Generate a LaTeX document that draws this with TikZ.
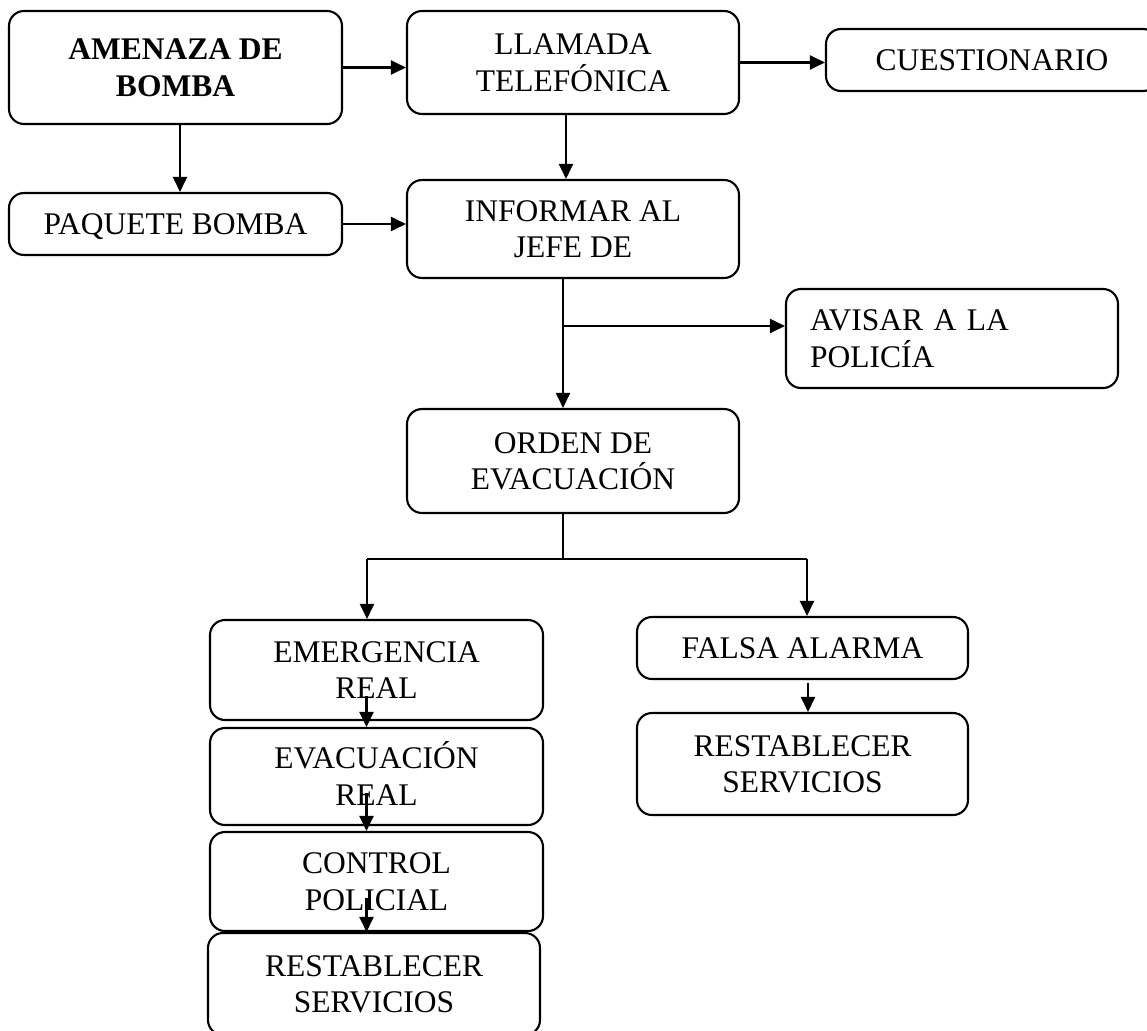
\documentclass[tikz,border=0pt]{standalone}
\usepackage{fontspec}
\setmainfont{Liberation Serif}
\usetikzlibrary{arrows.meta}

\begin{document}
\begin{tikzpicture}[x=1pt, y=-1pt,
        box/.style={draw, line width=2.1pt, rounded corners=15pt, minimum width=332pt,
            inner sep=0pt, align=center, text depth=0pt,
            font=\fontsize{31.5}{36.2}\selectfont},
        one/.style={box, text height=20.9pt},
        two/.style={box, text height=57.1pt},
        arr/.style={line width=2.1pt, -{Triangle[length=15pt, width=14pt]}},
        branch/.style={line width=1.3pt}]
        \useasboundingbox (0,0) rectangle (1147,1030);
        % first row
        \node[two, minimum width=333pt, minimum height=113pt,
            font=\fontsize{31.5}{36.2}\selectfont\bfseries] (amenaza) at (175.5,67.5) {AMENAZA DE\\BOMBA};
        \node[two, minimum height=103pt] (llamada) at (573,62.5) {LLAMADA\\TELEFÓNICA};
        \node[one, minimum height=62pt] (cuest) at (992,60) {CUESTIONARIO};
        % second row
        \node[one, minimum width=333pt, minimum height=62pt] (paquete) at (175.5,224) {PAQUETE BOMBA};
        \node[two, minimum height=99pt, align=left, text width=284pt, inner xsep=24pt,
            text height=20.9pt, text depth=36.2pt] (avisar) at (952,338.5) {AVISAR A LA\\POLICÍA};
        \node[two, minimum height=98pt] (informar) at (573,229) {INFORMAR AL\\JEFE DE};
        \node[two, minimum height=104pt] (orden) at (573,461) {ORDEN DE\\EVACUACIÓN};
        % real emergency
        \node[two, minimum width=333pt, minimum height=100pt] (emerg) at (376.5,670) {EMERGENCIA\\REAL};
        \node[two, minimum width=333pt, minimum height=97pt] (evac) at (376.5,776.5) {EVACUACIÓN\\REAL};
        \node[two, minimum width=333pt, minimum height=99pt] (control) at (376.5,881.5) {CONTROL\\POLICIAL};
        \node[two, minimum height=102pt] (rest1) at (374,984) {RESTABLECER\\SERVICIOS};
        % false alarm
        \node[one, minimum width=331pt, minimum height=62pt] (falsa) at (802.5,648) {FALSA ALARMA};
        \node[two, minimum width=331pt, minimum height=102pt] (rest2) at (802.5,764) {RESTABLECER\\SERVICIOS};

        \coordinate (br1) at (563,326);
        \coordinate (br2) at (563,559);

        \draw[arr] (amenaza.east) -- (amenaza.east -| llamada.west);
        \draw[arr] (llamada.east) -- (llamada.east -| cuest.west);
        \draw[arr] ([xshift=4.5pt]amenaza.south) -- ([xshift=4.5pt]paquete.north);
        \draw[arr] (paquete.east) -- (paquete.east -| informar.west);
        \draw[arr] ([xshift=-7pt]llamada.south) -- ([xshift=-7pt]informar.north);
        \draw[arr] ([xshift=-10pt]informar.south) -- ([xshift=-10pt]orden.north);
        \draw[arr] (br1) -- (br1 -| avisar.west);
        \draw[branch] ([xshift=-10pt]orden.south) -- (br2);
        \draw[branch] ([xshift=-9.5pt]emerg.north |- br2) -- ([xshift=4.5pt]falsa.north |- br2);
        \draw[arr] ([xshift=-9.5pt]emerg.north |- br2) -- ([xshift=-9.5pt]emerg.north);
        \draw[arr] ([xshift=4.5pt]falsa.north |- br2) -- ([xshift=4.5pt]falsa.north);
        \draw[arr] ([xshift=-10pt,yshift=25pt]emerg.south) -- ([xshift=-10pt]evac.north);
        \draw[arr] ([xshift=-10pt,yshift=33pt]evac.south) -- ([xshift=-10pt]control.north);
        \draw[arr] ([xshift=-10pt,yshift=34pt]control.south) -- ([xshift=-10pt]control.south |- rest1.north);
        \draw[arr] ([xshift=5.5pt,yshift=-3pt]falsa.south) -- ([xshift=5.5pt]rest2.north);
\end{tikzpicture}
\end{document}
